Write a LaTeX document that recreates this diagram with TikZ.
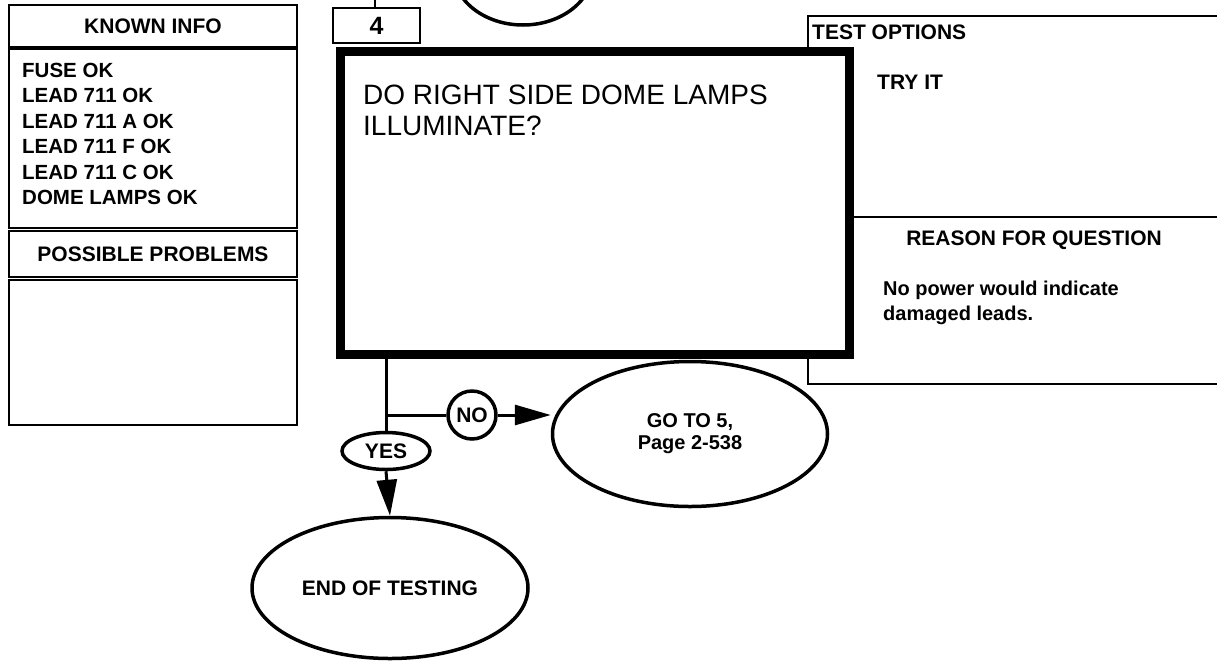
\documentclass[tikz,border=0pt]{standalone}
\usepackage{fontspec}
\setmainfont{Liberation Sans}
\usetikzlibrary{arrows.meta,shapes.geometric}
\begin{document}
\begin{tikzpicture}[x=1pt,y=-1pt,
  thinbox/.style={draw, line width=2pt},
  lbl/.style={font=\bfseries\fontsize{21}{25.5}\selectfont, inner sep=0pt},
  oval/.style={draw, ellipse, line width=3.5pt, inner sep=0pt, fill=white},
  conn/.style={line width=3pt},
  arr/.style={line width=3pt, -{Triangle[length=36pt,width=20pt]}},
]
\useasboundingbox (0,0) rectangle (1217,662);
\clip (0,0) rectangle (1217,662);
% left panel
\node (known) [thinbox, lbl, minimum width=288pt, minimum height=42pt] at (153,26) {KNOWN INFO};
\node (knownbox) [thinbox, minimum width=288pt, minimum height=179pt] at (153,138.5) {};
\node (knownlist) [lbl, anchor=north west, align=left, font=\bfseries\fontsize{20.5}{25.5}\selectfont] at (22,62.5)
  {FUSE OK\\LEAD 711 OK\\LEAD 711 A OK\\LEAD 711 F OK\\LEAD 711 C OK\\DOME LAMPS OK};
\node (probs) [thinbox, lbl, minimum width=288pt, minimum height=46pt] at (153,254) {POSSIBLE PROBLEMS};
\node (probbox) [thinbox, minimum width=288pt, minimum height=145pt] at (153,352.5) {};
% step number box and previous ellipse
\node (num) [thinbox, minimum width=87pt, minimum height=35pt, font=\bfseries\fontsize{25}{25}\selectfont] at (376.5,25.5) {4};
\coordinate (numtop) at (375,0);
\draw[line width=2pt] (num.north -| numtop) -- (numtop);
\node (prev) [oval, minimum width=140pt, minimum height=110pt] at (523,-30) {};
% right panel
\node (tests) [thinbox, anchor=north west, minimum width=440pt, minimum height=368pt] at (807,15) {};
\coordinate (divL) at (849,217);
\coordinate (divR) at (1240,217);
\draw[line width=2pt] (divL) -- (divR);
\node (testhdr) [lbl, anchor=west] at (812,32) {TEST OPTIONS};
\node (tryit) [lbl, anchor=west] at (877,82) {TRY IT};
\node (reason) [lbl] at (1034,240) {REASON FOR QUESTION};
\node (reasontext) [lbl, anchor=north west, align=left, font=\bfseries\fontsize{20}{25}\selectfont] at (883,280.5)
  {No power would indicate\\damaged leads.};
% question box
\node (q) [draw, line width=9pt, fill=white, minimum width=509pt, minimum height=303pt] at (594.5,202.5) {};
\node (qtext) [anchor=north west, align=left, inner sep=0pt, font=\fontsize{28}{30.5}\selectfont] at (363,85)
  {DO RIGHT SIDE DOME LAMPS\\ILLUMINATE?};
% flow
\node (yes) [oval, lbl, minimum width=88pt, minimum height=37pt] at (386,451) {YES};
\node (no) [oval, lbl, circle, minimum size=48pt] at (472,415) {NO};
\node (go) [oval, lbl, align=center, font=\bfseries\fontsize{20}{22}\selectfont, minimum width=275pt, minimum height=145pt] at (690,434) {GO TO 5,\\Page 2-538};
\node (end) [oval, lbl, minimum width=276pt, minimum height=141pt] at (390,588) {END OF TESTING};
\draw[conn] (q.south -| yes.north) -- (yes.north);
\draw[conn] (yes.north |- no.west) -- (no.west);
\draw[arr] (no.east) -- (go.west |- no.east);
\draw[arr] (yes.south) -- (end.north);
\end{tikzpicture}
\end{document}
